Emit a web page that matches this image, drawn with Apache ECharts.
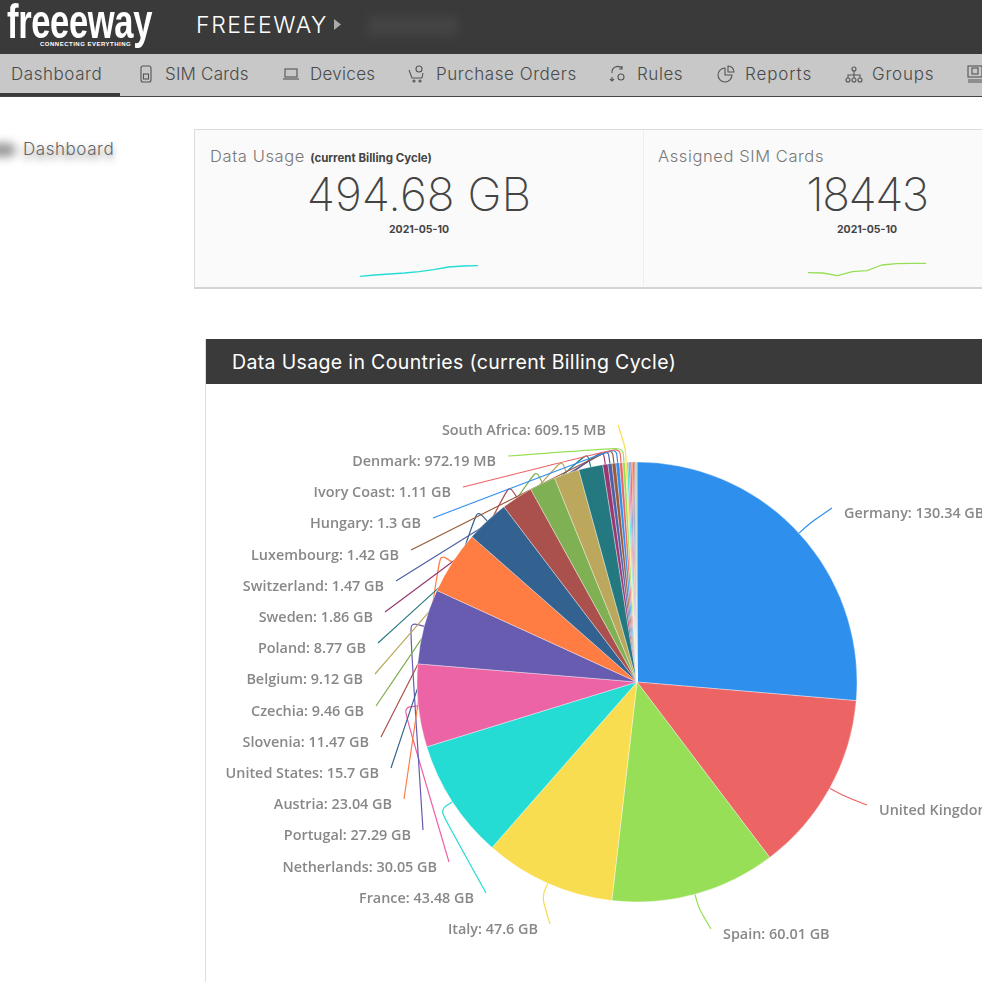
<!DOCTYPE html>
<html lang="en">
  <head>
    <meta charset="UTF-8" />
    <title>Freeeway dashboard</title>
    <script src="https://cdn.jsdelivr.net/npm/echarts@6/dist/echarts.min.js"></script>
    <style>
      html, body { margin: 0; width: 982px; height: 982px; overflow: hidden; background: #fff; }
      body { position: relative; font-family: Inter, "Noto Sans", sans-serif; font-weight: 300; color: #555; }
      .abs { position: absolute; white-space: nowrap; }
      #topbar { left: 0; top: 0; width: 982px; height: 54px; background: #3a3a3a; }
      #navbar { left: 0; top: 54px; width: 982px; height: 42px; background: #c8c8c8; border-bottom: 1px solid #444; }
      #navactive { left: 0; top: 93px; width: 120px; height: 3px; background: #3a3a3a; }
      .nav { top: 64px; font-size: 17px; line-height: 20px; color: #4a4a4a; letter-spacing: 0.55px; }
      .nav-icon { top: 65px; width: 18px; height: 18px; fill: none; stroke: #555; stroke-width: 1.1; }
      #card { left: 194px; top: 129px; width: 800px; height: 157px; background: #fafafa; border: 1px solid #ddd; border-bottom: 2px solid #d4d4d4; }
      #carddivider { left: 643px; top: 130px; width: 1px; height: 156px; background: #eee; }
      .card-title { top: 146px; font-size: 16.5px; line-height: 20px; color: #777; letter-spacing: 0.6px; }
      .card-sub { font-size: 11.5px; font-weight: 700; color: #444; letter-spacing: 0; }
      .card-value { top: 166px; font-size: 46px; line-height: 56px; font-weight: 200; color: #444; transform: translateX(-50%); }
      .card-date { top: 223px; font-size: 10.5px; line-height: 14px; font-weight: 700; color: #444; transform: translateX(-50%); }
      #panelhead { left: 206px; top: 339px; width: 776px; height: 45px; background: #3a3a3a; }
      #paneltitle { left: 232px; top: 350px; font-size: 19.5px; line-height: 24px; font-weight: 400; color: #fff; letter-spacing: 0.35px; }
      #panelside { left: 205px; top: 339px; width: 1px; height: 643px; background: #ddd; }
      #main { position: absolute; left: 0; top: 0; width: 982px; height: 982px; }
    </style>
  </head>

  <body>
    <div class="abs" id="topbar"></div>
    <div class="abs" style="left:7px;top:-6px;font:700 48px/56px 'Liberation Sans',sans-serif;color:#fff;letter-spacing:-0.5px;transform:scaleX(0.72);transform-origin:0 0">freeeway</div>
    <div class="abs" style="left:40px;top:40px;font:700 6px/8px 'Liberation Sans',sans-serif;color:#fff;letter-spacing:0.5px">CONNECTING EVERYTHING</div>
    <div class="abs" style="left:196px;top:11px;font-size:23px;line-height:28px;color:#fff;letter-spacing:1.6px">FREEEWAY</div>
    <svg class="abs" style="left:334px;top:19px" width="8" height="11"><path d="M0 0L7 5.5L0 11Z" fill="#aaa" /></svg>
    <div class="abs" style="left:368px;top:16px;width:90px;height:20px;background:#444;filter:blur(5px)"></div>

    <div class="abs" id="navbar"></div>
    <div class="abs" id="navactive"></div>
    <div class="abs nav" style="left:11px">Dashboard</div>
    <svg class="abs nav-icon" style="left:137px" viewBox="0 0 18 18"><rect x="4" y="1" width="10" height="16" rx="2" /><rect x="6.5" y="9" width="5" height="5" /></svg>
    <div class="abs nav" style="left:165px;letter-spacing:0.2px">SIM Cards</div>
    <svg class="abs nav-icon" style="left:282px" viewBox="0 0 18 18"><rect x="3" y="4" width="12" height="8" /><path d="M1 14H17" /></svg>
    <div class="abs nav" style="left:310px;letter-spacing:0.3px">Devices</div>
    <svg class="abs nav-icon" style="left:408px" viewBox="0 0 18 18"><circle cx="11" cy="4" r="3" /><path d="M1 5L4 13H14L15 8" /><circle cx="6" cy="16" r="1" /><circle cx="12" cy="16" r="1" /></svg>
    <div class="abs nav" style="left:436px">Purchase Orders</div>
    <svg class="abs nav-icon" style="left:609px" viewBox="0 0 18 18"><path d="M3 8A6 6 0 0 1 13 3M13 1V4H10M3 12V16M1 14L3 16L5 14" /><circle cx="12" cy="12" r="3" /></svg>
    <div class="abs nav" style="left:637px">Rules</div>
    <svg class="abs nav-icon" style="left:717px" viewBox="0 0 18 18"><path d="M8 3A7 7 0 1 0 15 10H8Z" /><path d="M11 1V7H17A6 6 0 0 0 11 1Z" /></svg>
    <div class="abs nav" style="left:745px;letter-spacing:0.9px">Reports</div>
    <svg class="abs nav-icon" style="left:845px" viewBox="0 0 18 18"><circle cx="9" cy="4" r="2" /><path d="M9 6V10M3 13V10H15V13M9 10V13" /><circle cx="3" cy="15" r="2" /><circle cx="9" cy="15" r="2" /><circle cx="15" cy="15" r="2" /></svg>
    <div class="abs nav" style="left:872px;letter-spacing:0.8px">Groups</div>
    <svg class="abs nav-icon" style="left:966px" viewBox="0 0 18 18"><rect x="2" y="1" width="14" height="11" /><rect x="6" y="3" width="6" height="6" /><path d="M2 15H16M2 17H16" /></svg>

    <div class="abs" style="left:-14px;top:143px;width:30px;height:14px;background:#999;border-radius:7px;filter:blur(5px)"></div>
    <div class="abs" style="left:23px;top:139px;font-size:17px;line-height:20px;color:#666;letter-spacing:0.55px;text-shadow:0 4px 7px rgba(0,0,0,.5)">Dashboard</div>

    <div class="abs" id="card"></div>
    <div class="abs" id="carddivider"></div>
    <div class="abs card-title" style="left:210px">Data Usage <span class="card-sub">(current Billing Cycle)</span></div>
    <div class="abs card-value" style="left:419px">494.68 GB</div>
    <div class="abs card-date" style="left:419px">2021-05-10</div>
    <div class="abs card-title" style="left:658px">Assigned SIM Cards</div>
    <div class="abs card-value" style="left:867px;letter-spacing:-1.5px">18443</div>
    <div class="abs card-date" style="left:867px">2021-05-10</div>

    <div class="abs" id="panelside"></div>
    <div class="abs" id="panelhead"></div>
    <div class="abs" id="paneltitle">Data Usage in Countries (current Billing Cycle)</div>

    <div id="main"></div>

    <script type="text/javascript">
      // Values, in GB
      const countries = ["Germany", "United Kingdom", "Spain", "Italy", "France", "Netherlands", "Portugal",
        "Austria", "United States", "Slovenia", "Czechia", "Belgium", "Poland", "Sweden", "Switzerland",
        "Luxembourg", "Hungary", "Ivory Coast", "Denmark", "South Africa"];
      const usageGb = [130.34, 66.01, 60.01, 47.6, 43.48, 30.05, 27.29, 23.04, 15.7, 11.47, 9.46, 9.12, 8.77,
        1.86, 1.47, 1.42, 1.3, 1.11, 0.97219, 0.60915];
      // Thin unlabelled slices at the end of the pie
      const tinySlicesGb = [0.58, 0.56, 0.52, 0.48, 0.42, 0.36, 0.3, 0.22, 0.14];
      const sparkUsage = [3.7, 5, 6, 7, 8.3, 10.3, 13, 14, 14.3];
      const sparkSims = [7.3, 7, 4.3, 8.3, 9.3, 15, 16.3, 16.7, 16.7];

      const palette = ["#2f8fed", "#ec6464", "#98df58", "#f9dd51", "#24dcd4", "#ec64a5", "#685cb0", "#ff7d42",
        "#336190", "#aa514d", "#7fb053", "#bba85c", "#247981", "#963970", "#4f5fa8", "#9a5a3a"];

      // Where the label column sits: right edge of each left label, left edge of right ones
      const labelEdgeX = [844, 879, 723, 538, 474, 437, 411, 392, 379, 369, 364, 363, 366, 373, 384, 399, 421, 451, 496, 606];
      const labelRowY = [514, 811, 935, 930, 899, 868, 836, 805, 774, 743, 712, 680, 649, 618, 587, 556, 524, 493, 462, 431];
      const rightSide = [true, true, true];

      const pieCenter = [637, 682];
      const pieRadius = 220;
      const lineLength = 15;
      const lineGap = 12;

      const allValues = usageGb.concat(tinySlicesGb);
      const total = allValues.reduce((a, b) => a + b, 0);

      // Middle angle of a slice, clockwise from 12 o'clock
      function midAngle(index) {
        let before = 0;
        for (let i = 0; i < index; i++) before += allValues[i];
        return ((before + allValues[index] / 2) / total) * Math.PI * 2;
      }

      function onPie(angle, r) {
        return [pieCenter[0] + Math.sin(angle) * r, pieCenter[1] - Math.cos(angle) * r];
      }

      function formatUsage(gb) {
        return gb >= 1 ? gb + " GB" : (gb * 1000).toFixed(2) + " MB";
      }

      const sliceData = allValues.map((value, i) => {
        if (i < countries.length) return { name: countries[i], value: value };
        return { name: "", value: value, label: { show: false }, labelLine: { show: false } };
      });

      let myChart = echarts.init(document.getElementById("main"), null, { renderer: "canvas" });

      let options = {
        animation: false,
        color: palette,
        grid: [
          { left: 360, top: 260, width: 118, height: 20 },
          { left: 808, top: 260, width: 118, height: 20 },
        ],
        xAxis: [
          { type: "category", gridIndex: 0, boundaryGap: false, show: false, data: sparkUsage.map((v, i) => i) },
          { type: "category", gridIndex: 1, boundaryGap: false, show: false, data: sparkSims.map((v, i) => i) },
        ],
        yAxis: [
          { type: "value", gridIndex: 0, min: 0, max: 20, show: false },
          { type: "value", gridIndex: 1, min: 0, max: 20, show: false },
        ],
        series: [
          { type: "line", xAxisIndex: 0, yAxisIndex: 0, data: sparkUsage, showSymbol: false, silent: true,
            lineStyle: { color: "#24dcd4", width: 1.3 } },
          { type: "line", xAxisIndex: 1, yAxisIndex: 1, data: sparkSims, showSymbol: false, silent: true,
            lineStyle: { color: "#98df58", width: 1.3 } },
          {
            name: "Data Usage",
            type: "pie",
            center: pieCenter,
            radius: pieRadius,
            startAngle: 90,
            avoidLabelOverlap: false,
            data: sliceData,
            itemStyle: { borderColor: "rgba(255,255,255,0.7)", borderWidth: 0.5 },
            label: {
              show: true,
              color: "#888",
              fontFamily: "Open Sans",
              fontWeight: 600,
              fontSize: 14.4,
              formatter: (p) => p.name + ": " + formatUsage(p.value),
            },
            labelLine: { show: true, length: lineLength, length2: 10, smooth: 0.3, lineStyle: { width: 1.2 } },
            labelLayout: (params) => {
              const i = params.dataIndex;
              if (i >= countries.length) return {};
              const angle = midAngle(i);
              const onRight = !!rightSide[i];
              const endX = labelEdgeX[i] + (onRight ? -lineGap : lineGap);
              return {
                x: labelEdgeX[i],
                y: labelRowY[i],
                align: onRight ? "left" : "right",
                verticalAlign: "middle",
                labelLinePoints: [onPie(angle, pieRadius), onPie(angle, pieRadius + lineLength), [endX, labelRowY[i] - 6]],
              };
            },
          },
        ],
      };

      myChart.setOption(options);
    </script>
  </body>
</html>
